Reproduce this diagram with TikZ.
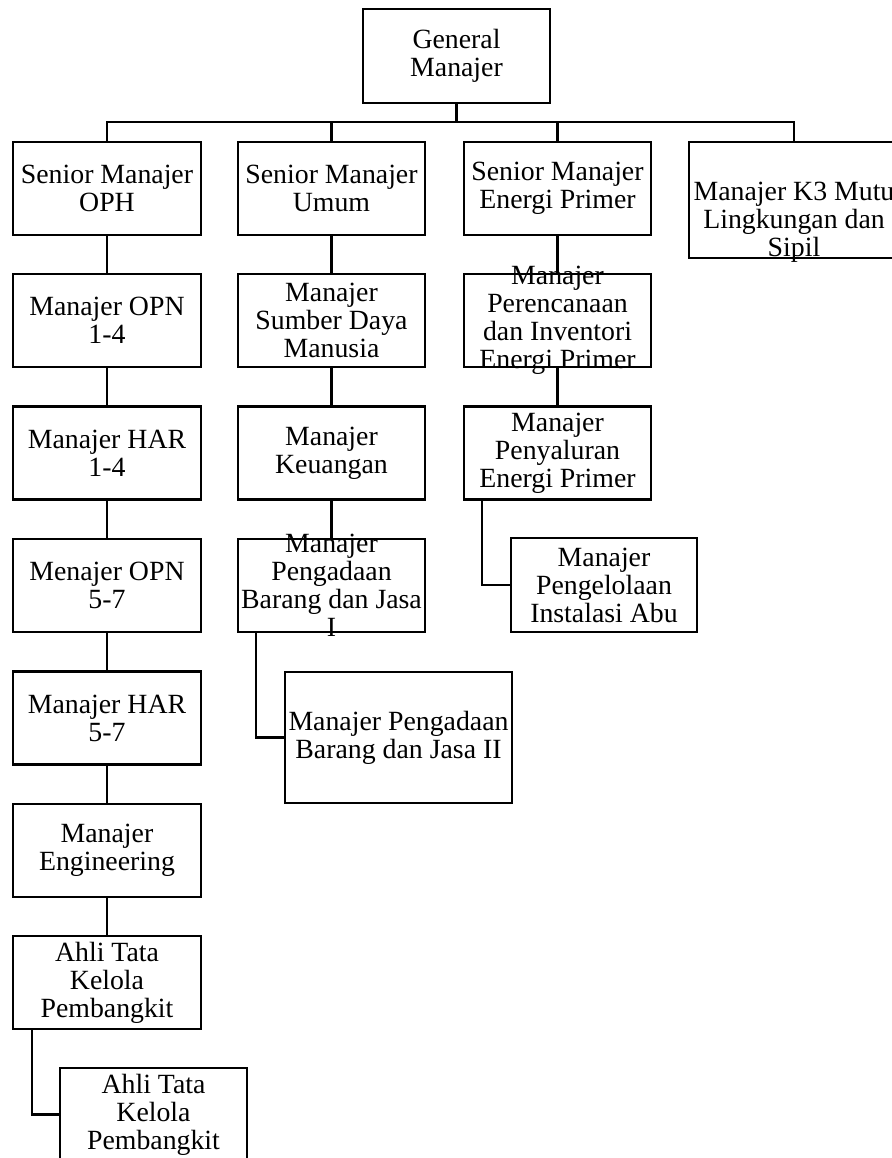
\documentclass[tikz,border=0pt]{standalone}
\usepackage{fontspec}
\setmainfont{Liberation Serif}
\usetikzlibrary{calc}
\begin{document}
\begin{tikzpicture}[x=1pt,y=-1pt,
  lbl/.style={inner sep=0pt, align=center, font=\fontsize{27.8}{28}\selectfont},
  box/.style={draw, line width=2.6pt, lbl, minimum width=187pt, minimum height=93pt},
  link/.style={line width=2.4pt}]
\useasboundingbox (0,0) rectangle (891,1158);
\fill[white] (0,0) rectangle (891,1158);
% top
\node[box, minimum height=94pt] (gm) at (456.5,56) {General\\Manajer};
\coordinate (busy) at (0,122);
% row 1
\node[box, minimum width=188pt] (oph) at (107,188.5) {Senior Manajer\\OPH};
\node[box] (umum) at (331.5,188.5) {Senior Manajer\\Umum};
\node[box] (ep) at (557.5,188.5) {Senior Manajer\\Energi Primer};
\node[box, minimum width=210pt, minimum height=116pt] (k3) at (794,200) {};
\node[lbl] (k3t) at (794,222) {Manajer K3 Mutu\\Lingkungan dan\\Sipil};
% left column
\node[box, minimum width=188pt] (opn14) at (107,320.5) {Manajer OPN\\1-4};
\node[box, minimum width=188pt] (har14) at (107,453) {Manajer HAR\\1-4};
\node[box, minimum width=188pt] (opn57) at (107,585.5) {Menajer OPN\\5-7};
\node[box, minimum width=188pt] (har57) at (107,718) {Manajer HAR\\5-7};
\node[box, minimum width=188pt] (eng) at (107,850.5) {Manajer\\Engineering};
\node[box, minimum width=188pt] (ahli1) at (107,982.5) {Ahli Tata\\Kelola\\Pembangkit};
\node[box] (ahli2) at (153.5,1114.5) {Ahli Tata\\Kelola\\Pembangkit};
% middle column
\node[box] (sdm) at (331.5,320.5) {Manajer\\Sumber Daya\\Manusia};
\node[box] (keu) at (331.5,453) {Manajer\\Keuangan};
\node[box] (pbj1) at (331.5,585.5) {};
\node[lbl] (pbj1t) at (331.5,585.5) {Manajer\\Pengadaan\\Barang dan Jasa\\I};
\node[box, minimum width=227pt, minimum height=131pt] (pbj2) at (398.5,737.5) {Manajer Pengadaan\\Barang dan Jasa II};
% right column
\node[box] (rencana) at (557.5,320.5) {};
\node[lbl] (rencanat) at (557.5,320.5) {Manajer\\Perencanaan\\dan Inventori\\Energi Primer};
\node[box] (salur) at (557.5,453) {Manajer\\Penyaluran\\Energi Primer};
\node[box, minimum width=186pt, minimum height=94pt] (abu) at (604,585) {Manajer\\Pengelolaan\\Instalasi Abu};
% connectors
\draw[link] (gm.south) -- (gm.south |- busy);
\draw[link] (oph.north) -- (oph.north |- busy) -- (k3.north |- busy) -- (k3.north);
\draw[link] (umum.north) -- (umum.north |- busy);
\draw[link] (ep.north) -- (ep.north |- busy);
\draw[link] (oph) -- (opn14);
\draw[link] (opn14) -- (har14);
\draw[link] (har14) -- (opn57);
\draw[link] (opn57) -- (har57);
\draw[link] (har57) -- (eng);
\draw[link] (eng) -- (ahli1);
\draw[link] ([xshift=20pt]ahli1.south west) |- (ahli2.west);
\draw[link] (umum) -- (sdm);
\draw[link] (sdm) -- (keu);
\draw[link] (keu) -- (pbj1);
\draw[link] ([xshift=19pt]pbj1.south west) |- (pbj2.west);
\draw[link] (ep) -- (rencana);
\draw[link] (rencana) -- (salur);
\draw[link] ([xshift=19pt]salur.south west) |- (abu.west);
\end{tikzpicture}
\end{document}
